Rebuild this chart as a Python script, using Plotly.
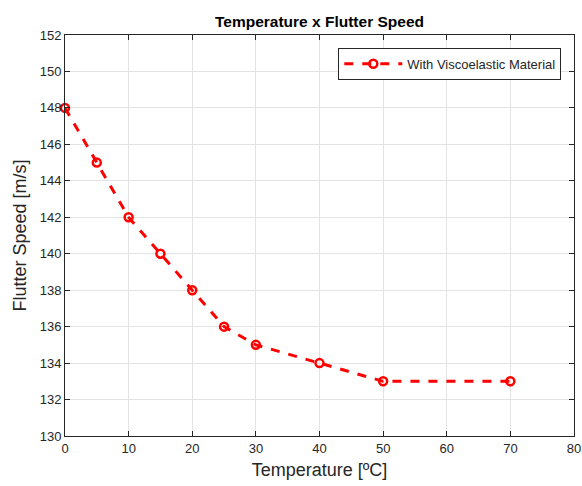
import plotly.graph_objects as go

temperature = [0, 5, 10, 15, 20, 25, 30, 40, 50, 70]
flutter_speed = [148, 145, 142, 140, 138, 136, 135, 134, 133, 133]
x_ticks = [0, 10, 20, 30, 40, 50, 60, 70, 80]
y_ticks = list(range(130, 153, 2))

FONT = "Liberation Sans, Arial, Helvetica"

fig = go.Figure()
fig.add_trace(go.Scatter(
    x=temperature, y=flutter_speed, mode="lines+markers",
    name="With Viscoelastic Material",
    line=dict(color="#ff0000", width=3, dash="dash"),
    marker=dict(symbol="circle-open", size=8, color="#ff0000", line=dict(width=2.5, color="#ff0000")),
    cliponaxis=False,
))

axis_common = dict(
    showline=True, linecolor="#262626", linewidth=1, mirror="ticks",
    ticks="inside", ticklen=5, tickcolor="#262626",
    showgrid=True, gridcolor="#e3e3e3", gridwidth=1, zeroline=False,
    tickfont=dict(family=FONT, size=13, color="#262626"),
)

fig.update_layout(
    width=582, height=486,
    paper_bgcolor="white", plot_bgcolor="white",
    margin=dict(l=65, r=8, t=35, b=50, autoexpand=False),
    title=dict(text="<b>Temperature x Flutter Speed</b>", x=0.5, xanchor="center",
               xref="paper", y=1, yref="paper", yanchor="bottom", pad=dict(b=8),
               font=dict(family=FONT, size=15.5, color="black")),
    xaxis=dict(range=[0, 80], tickvals=x_ticks,
               title=dict(text="Temperature [ºC]", standoff=8,
                          font=dict(family=FONT, size=18, color="#262626")),
               **axis_common),
    yaxis=dict(range=[130, 152], tickvals=y_ticks,
               title=dict(text="Flutter Speed [m/s]", standoff=8,
                          font=dict(family=FONT, size=18, color="#262626")),
               **axis_common),
    legend=dict(x=0.975, y=0.968, xanchor="right", yanchor="top",
                bgcolor="white", bordercolor="#262626", borderwidth=1,
                itemwidth=58, tracegroupgap=0,
                font=dict(family=FONT, size=13, color="#262626")),
    showlegend=True,
)

fig.write_html("out.html", config={"responsive": False, "displayModeBar": False},
               post_script="document.body.style.margin='0';document.body.style.overflow='hidden';")
